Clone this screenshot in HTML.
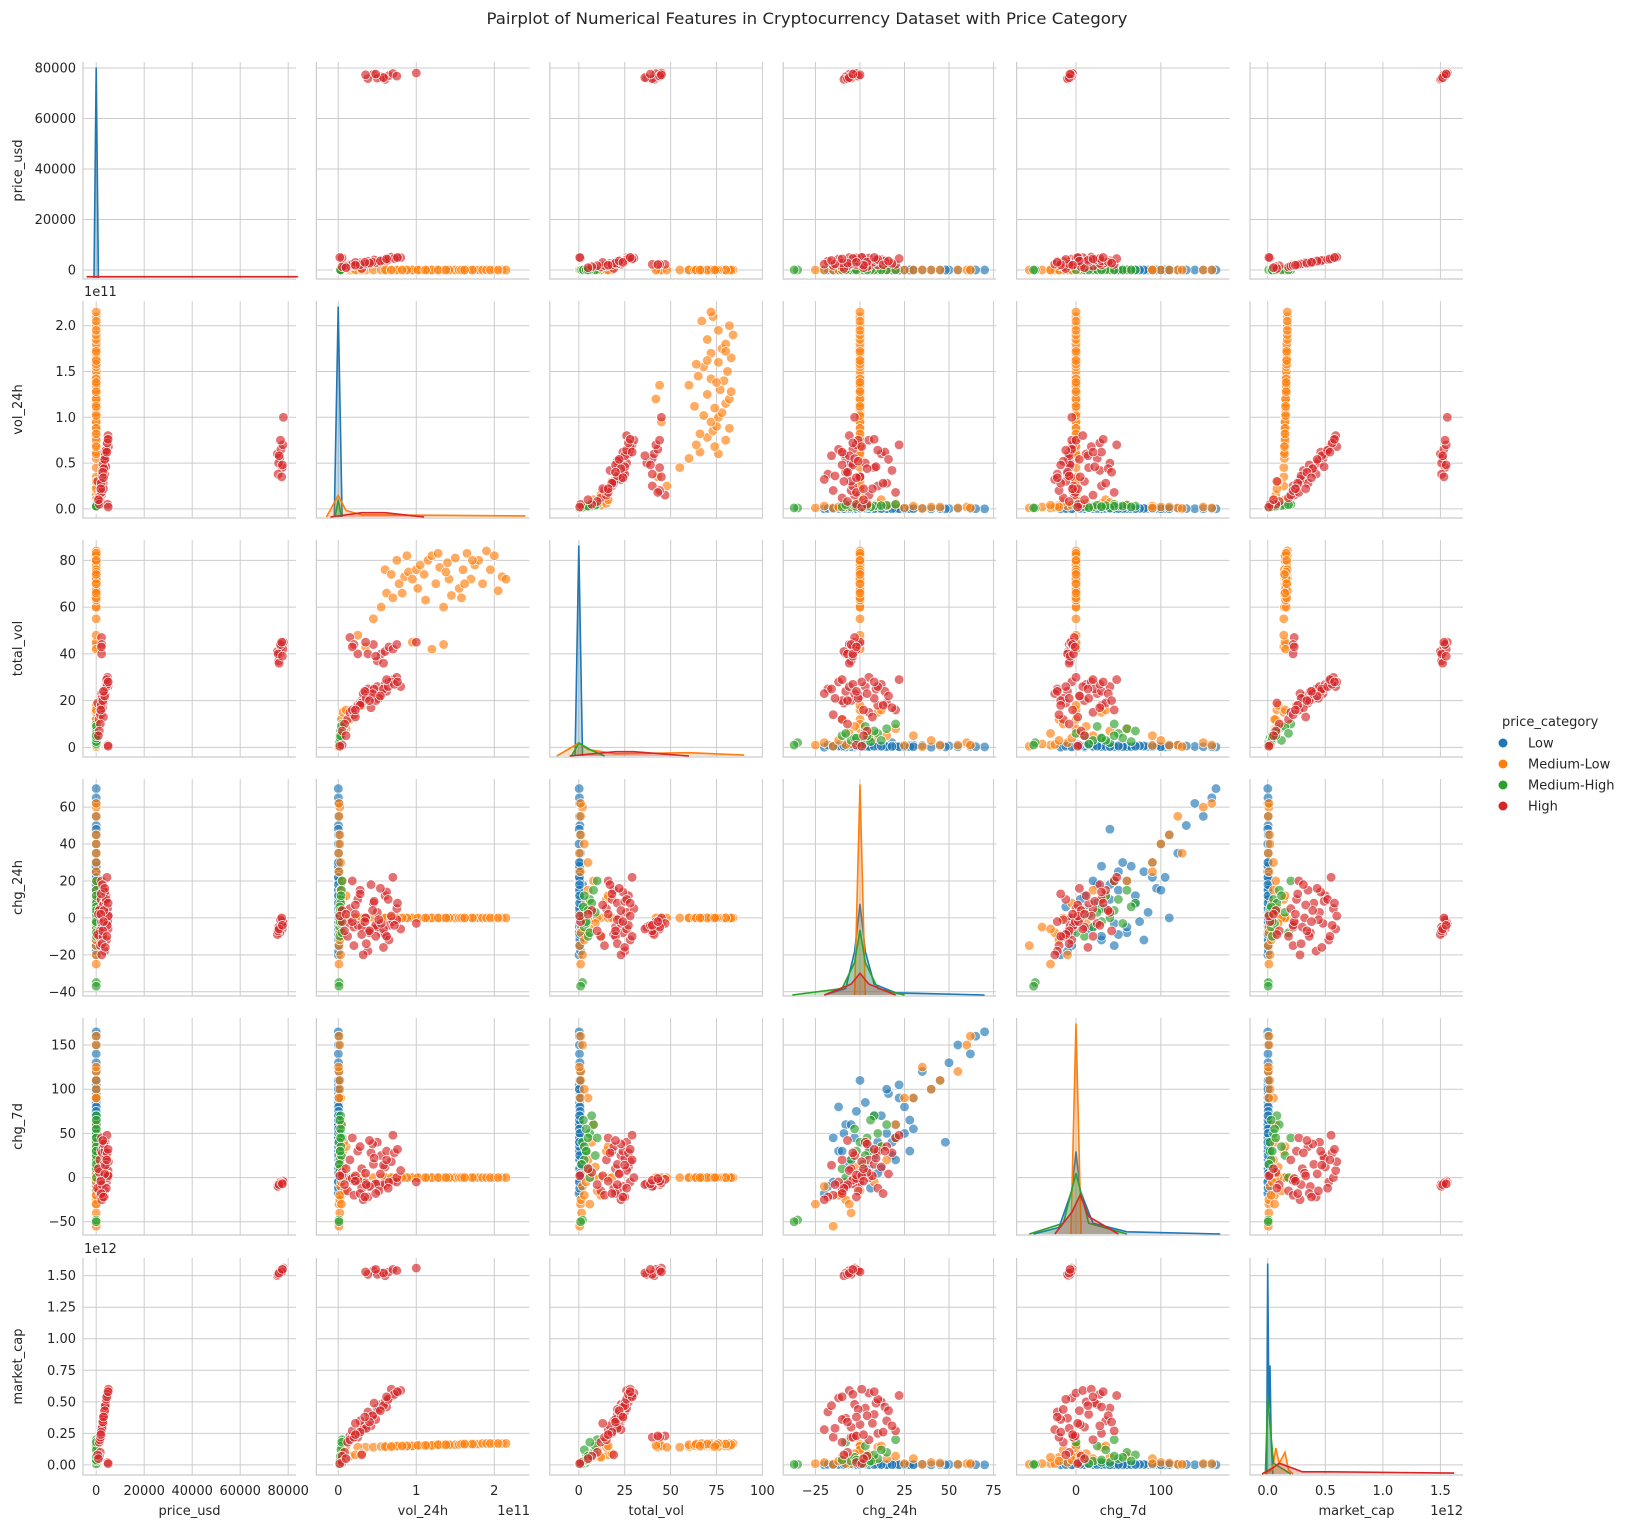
<!DOCTYPE html>
<html><head><meta charset="utf-8"><style>
html,body{margin:0;padding:0;background:#fff;}
svg{display:block;font-family:"DejaVu Sans","Liberation Sans",sans-serif;}
</style></head><body>
<svg id="chart" width="1631" height="1528" viewBox="0 0 1631 1528" xmlns="http://www.w3.org/2000/svg">
<text x="807" y="24" text-anchor="middle" font-size="16" fill="#262626" textLength="641" lengthAdjust="spacingAndGlyphs">Pairplot of Numerical Features in Cryptocurrency Dataset with Price Category</text>
<g id="panels"></g>
<g>
<text x="1502" y="726" font-size="13" fill="#262626">price_category</text>
<circle cx="1503" cy="743" r="4.5" fill="#1f77b4"/>
<text x="1528" y="747.5" font-size="13" fill="#262626">Low</text>
<circle cx="1503" cy="764" r="4.5" fill="#ff7f0e"/>
<text x="1528" y="768.5" font-size="13" fill="#262626">Medium-Low</text>
<circle cx="1503" cy="785" r="4.5" fill="#2ca02c"/>
<text x="1528" y="789.5" font-size="13" fill="#262626">Medium-High</text>
<circle cx="1503" cy="806" r="4.5" fill="#d62728"/>
<text x="1528" y="810.5" font-size="13" fill="#262626">High</text>
</g>
</svg>
<script>
// variables & categories
const vars = ['price_usd','vol_24h','total_vol','chg_24h','chg_7d','market_cap'];
const categories = ['Low','Medium-Low','Medium-High','High'];
// axis tick values per variable
const xTicks = [[0,20000,40000,60000,80000],[0,1,2],[0,25,50,75,100],[-25,0,25,50,75],[0,100],[0,0.5,1,1.5]];
const xTickLabels = [['0','20000','40000','60000','80000'],['0','1','2'],['0','25','50','75','100'],['\u221225','0','25','50','75'],['0','100'],['0.0','0.5','1.0','1.5']];
const yTicks = [[0,20000,40000,60000,80000],[0,0.5,1,1.5,2],[0,20,40,60,80],[-40,-20,0,20,40,60],[-50,0,50,100,150],[0,0.25,0.5,0.75,1,1.25,1.5]];
const yTickLabels = [['0','20000','40000','60000','80000'],['0.0','0.5','1.0','1.5','2.0'],['0','20','40','60','80'],['\u221240','\u221220','0','20','40','60'],['\u221250','0','50','100','150'],['0.00','0.25','0.50','0.75','1.00','1.25','1.50']];
// axis limits (data units; vol in 1e11, market_cap in 1e12)
const xLimits = [[-5500,83250],[-0.28,2.45],[-15.8,100.2],[-43.1,76.5],[-70,181],[-0.154,1.696]];
const yLimits = [[-3564,82376],[-0.10,2.27],[-4.1,88.7],[-42.3,75.2],[-65,180.6],[-0.08,1.64]];

// records: [price_usd, vol_24h(1e11), total_vol, chg_24h, chg_7d, market_cap(1e12)]
const lowRows = [
[0.1,0.001,0.1,5,10,0.001],[0.5,0.002,0.3,20,60,0.002],[1,0.005,0.5,-10,-15,0.003],[0.2,0.001,0.2,70,165,0.001],
[0.3,0.002,0.4,62,140,0.002],[0.8,0.003,0.6,50,130,0.003],[0.05,0.001,0.1,40,100,0.001],[2,0.01,1,30,90,0.005],
[0.4,0.002,0.5,25,80,0.002],[1.5,0.008,0.8,15,50,0.004],[0.6,0.003,0.3,10,40,0.002],[0.2,0.001,0.2,-5,20,0.001],
[3,0.02,1.5,0,0,0.01],[0.7,0.004,0.6,-15,-5,0.003],[0.1,0.001,0.1,-20,-18,0.001],[0.9,0.005,0.9,35,120,0.004],
[0.3,0.002,0.2,22,105,0.002],[1.2,0.006,1.2,-12,30,0.005],[0.4,0.002,0.4,8,70,0.002],[4,0.03,2,18,25,0.02],
[0.15,0.001,0.2,48,40,0.001],[0.25,0.002,0.3,-8,60,0.002],[0.5,0.003,0.5,12,10,0.003],[1,0.004,0.8,28,30,0.004],
[0.3,0.002,0.3,55,150,0.002],[0.6,0.003,0.4,3,85,0.003],[0.2,0.001,0.2,-3,45,0.001],[0.8,0.004,0.7,16,95,0.004],
[1.1,0.005,1.0,-18,-10,0.005],[0.4,0.002,0.3,65,160,0.002],[0.7,0.003,0.5,6,-12,0.003],[0.9,0.004,0.6,45,110,0.004],
[0.3,0.002,0.3,-10,30,0.002],[0.5,0.003,0.4,-5,60,0.002],[0.7,0.004,0.5,20,20,0.003],[0.2,0.001,0.2,25,50,0.001],
[1,0.005,0.6,-12,80,0.004],[0.4,0.002,0.3,15,100,0.002],[0.6,0.003,0.4,5,35,0.003],[0.8,0.004,0.7,-2,75,0.004],
[0.3,0.002,0.3,28,65,0.002],[0.5,0.002,0.4,-15,45,0.002],[0.9,0.005,0.8,10,5,0.004],[0.2,0.001,0.2,-8,-5,0.001],
[0.4,0.002,0.3,22,90,0.002],[0.6,0.003,0.5,0,110,0.003],[1.3,0.007,1.1,-6,15,0.006],[0.35,0.002,0.3,30,55,0.002],
[0.5,0.003,0.5,8,25,0.003],[0.7,0.004,0.6,-9,50,0.003],[0.4,0.002,0.4,18,40,0.002],[0.6,0.003,0.5,12,70,0.003]
];
const mediumLowRows = [
[1,0.35,43,0,0,0.14],[1,0.45,55,0,0,0.14],[1,0.55,60,0,0,0.145],[1,0.62,66,0,0,0.145],[1,0.70,64,0,0,0.15],
[1,0.78,70,0,0,0.15],[1,0.85,73,0,0,0.15],[1,0.90,75,0,0,0.15],[1,0.95,72,0,0,0.15],[1,1.00,76,0,0,0.155],
[1,1.05,78,0,0,0.155],[1,1.10,74,0,0,0.155],[1,1.15,80,0,0,0.155],[1,1.20,82,0,0,0.155],[1,1.25,70,0,0,0.16],
[1,1.30,77,0,0,0.16],[1,1.35,44,0,0,0.16],[1,1.40,79,0,0,0.16],[1,1.45,65,0,0,0.16],[1,1.50,81,0,0,0.16],
[1,1.55,68,0,0,0.16],[1,1.60,76,0,0,0.165],[1,1.65,83,0,0,0.165],[1,1.70,72,0,0,0.165],[1,1.75,78,0,0,0.165],
[1,1.80,80,0,0,0.165],[1,1.85,70,0,0,0.17],[1,1.90,84,0,0,0.17],[1,2.00,82,0,0,0.17],[1,2.10,73,0,0,0.17],
[1,2.15,72,0,0,0.17],[1,0.95,45,0,0,0.15],[1,1.20,42,0,0,0.155],[1,1.35,60,0,0,0.16],[1,0.25,48,0,0,0.14],
[1,0.60,76,0,0,0.145],[1,0.75,80,0,0,0.15],[1,0.88,82,0,0,0.15],[1,1.02,68,0,0,0.155],[1,1.12,63,0,0,0.155],
[1,1.28,83,0,0,0.16],[1,1.42,72,0,0,0.16],[1,1.58,64,0,0,0.165],[1,1.72,80,0,0,0.165],[1,1.95,76,0,0,0.17],
[1,2.05,67,0,0,0.17],[1,1.62,70,0,0,0.165],[1,1.38,75,0,0,0.16],[1,0.68,74,0,0,0.145],[1,0.82,66,0,0,0.15],
[1,0.15,12,0,0,0.07],[1,0.22,16,0,0,0.08],[1,0.30,18,0,0,0.09],[1,0.10,8,0,0,0.06],
[0.5,0.01,1,-25,-30,0.01],[1,0.02,2,60,150,0.01],[2,0.01,1,55,120,0.005],[0.3,0.02,3,40,100,0.02],
[5,0.03,5,30,90,0.05],[10,0.05,8,20,60,0.07],[20,0.04,12,-10,-20,0.06],[1,0.01,0.5,-15,-55,0.005],
[3,0.02,1.5,-5,-40,0.01],[50,0.06,15,10,30,0.14],[0.8,0.01,1,62,160,0.01],[2,0.02,1,45,110,0.015],
[1,0.03,2,-20,-10,0.02],[4,0.05,6,5,5,0.08],[8,0.08,10,0,-15,0.12],[15,0.10,16,12,35,0.15],
[0.5,0.01,0.8,25,90,0.01],[1,0.02,1.2,-8,-25,0.01],[30,0.07,7,3,40,0.06],[0.2,0.005,0.3,35,125,0.005],
[6,0.04,4,8,-5,0.04],[12,0.06,9,-3,12,0.09],[2,0.02,3,-12,-20,0.03],[4,0.03,5,15,20,0.05],[7,0.04,6,-6,-30,0.06]
];
const mediumHighRows = [
[20,0.01,2,-35,-48,0.005],[15,0.01,1,-37,-50,0.004],[30,0.02,4,5,30,0.02],[50,0.03,6,10,50,0.05],
[40,0.02,3,-5,20,0.03],[60,0.04,8,15,60,0.10],[80,0.05,10,20,45,0.20],[25,0.01,2,0,40,0.02],
[35,0.02,5,-10,10,0.04],[45,0.03,7,8,70,0.08],[70,0.04,9,3,25,0.15],[55,0.03,4,-3,55,0.06],
[65,0.035,3,12,35,0.12],[90,0.045,6,-8,0,0.18],[28,0.015,1.5,2,15,0.01],[38,0.02,2.5,6,65,0.03],
[42,0.025,4,-2,30,0.04],[58,0.03,5,4,45,0.07]
];
const highRows = [
[77500,0.45,44,-6,-8,1.54],[76500,0.55,40,-8,-9,1.52],[75500,0.60,41,-9,-9,1.50],[77000,0.65,43,-4,-6,1.53],
[78000,1.00,45,-3,-5,1.56],[76000,0.50,37,-5,-7,1.51],[77800,0.70,42,-2,-4,1.55],[75800,0.38,40,-7,-10,1.51],
[76800,0.75,44,-1,-5,1.54],[77300,0.35,45,0,-6,1.53],[76200,0.58,36,-6,-8,1.52],[77600,0.48,39,-4,-7,1.55],
[2200,0.15,47,-3,-2,0.23],[2300,0.20,44,-5,-4,0.22],[2250,0.25,40,-4,-3,0.22],[2150,0.18,43,-2,-1,0.23],
[1200,0.12,12,-10,-15,0.18],[1500,0.15,15,5,20,0.20],[1800,0.20,14,-15,-20,0.22],[2000,0.25,18,10,30,0.25],
[2200,0.18,16,20,45,0.27],[2500,0.30,20,-5,10,0.30],[2700,0.35,22,0,5,0.32],[2900,0.28,19,15,35,0.35],
[3100,0.40,24,-8,-10,0.37],[3300,0.45,21,8,15,0.40],[3500,0.38,25,-18,-22,0.42],[3700,0.50,26,3,40,0.45],
[3900,0.55,23,-3,25,0.48],[4100,0.60,27,12,12,0.50],[4300,0.65,28,-12,-5,0.53],[4500,0.70,29,22,48,0.55],
[4700,0.75,30,5,0,0.57],[4900,0.80,26,-6,8,0.59],[5100,0.68,28,1,18,0.60],[2300,0.32,23,-20,-25,0.28],
[2600,0.42,17,18,28,0.31],[3000,0.22,13,7,2,0.33],[3400,0.52,21,-1,-15,0.44],[4000,0.46,25,9,22,0.49],
[1700,0.08,10,-7,-8,0.10],[1300,0.05,7,4,6,0.07],[4800,0.05,1,-2,3,0.02],[5000,0.02,0.5,1,2,0.01],
[600,0.30,19,-9,-12,0.08],[900,0.10,5,2,10,0.05],[3600,0.62,24,14,30,0.46],[2800,0.48,20,-10,-18,0.36],
[2400,0.36,21,-14,-8,0.29],[3200,0.44,23,4,38,0.39],[3800,0.58,25,-16,14,0.47],[4200,0.64,26,10,-12,0.52],
[4600,0.72,27,-4,28,0.56],[2100,0.28,18,13,-18,0.26],[2750,0.40,20,-7,42,0.34],[3550,0.54,22,16,4,0.43],
[4400,0.62,29,-10,20,0.54],[1900,0.22,16,2,-4,0.24],[3050,0.34,24,-2,-22,0.38],[4950,0.76,28,8,32,0.58]
];

// diagonal KDE curves: x in data units, density as fraction of panel height
const kdePriceX = [[-900,0,900],[],[],[-4000,84000]];
const kdePriceD = [[0,0.97,0],[],[],[0.006,0.006]];
const kdeVolX = [[-0.05,0,0.05],[-0.15,0,0.1,0.3,2.4],[-0.04,0,0.04],[-0.1,0.3,0.6,1.1]];
const kdeVolD = [[0,0.97,0],[0,0.1,0.03,0.01,0.005],[0,0.08,0],[0,0.02,0.02,0]];
const kdeTotalX = [[-2,0,2],[-12,0,5,20,60,90],[-4,0,6,14],[-5,20,30,45,60]];
const kdeTotalD = [[0,0.97,0],[0,0.06,0.03,0.01,0.015,0.004],[0,0.06,0.03,0],[0,0.02,0.02,0.01,0]];
const kdeChg24X = [[-20,-8,-3,0,3,8,20,70],[-3,0,3],[-38,-10,-3,0,3,10,25],[-20,-5,0,5,20]];
const kdeChg24D = [[0,0.03,0.2,0.42,0.2,0.05,0.01,0],[0,0.97,0],[0,0.03,0.15,0.3,0.15,0.03,0],[0,0.05,0.1,0.05,0]];
const kdeChg7X = [[-50,-20,-5,0,5,20,60,170],[-6,0,6],[-55,-15,0,15,60],[-25,-5,5,15,50]];
const kdeChg7D = [[0,0.03,0.2,0.38,0.2,0.05,0.01,0],[0,0.97,0],[0,0.05,0.28,0.05,0],[0,0.1,0.18,0.08,0]];
const kdeMcapX = [[-0.01,0,0.01,0.02,0.03,0.045],[-0.02,0.04,0.07,0.1,0.15,0.18,0.22],[-0.02,0,0.05,0.2],[-0.05,0.05,0.1,0.3,0.55,1.62]];
const kdeMcapD = [[0,0.97,0.3,0.5,0.15,0],[0,0.02,0.12,0.05,0.1,0.02,0],[0,0.35,0.05,0],[0,0.03,0.05,0.01,0.01,0.004]];

const colors = ['#1f77b4','#ff7f0e','#2ca02c','#d62728'];
const catRows = [lowRows, mediumLowRows, mediumHighRows, highRows];
const kdeX = [kdePriceX,kdeVolX,kdeTotalX,kdeChg24X,kdeChg7X,kdeMcapX];
const kdeD = [kdePriceD,kdeVolD,kdeTotalD,kdeChg24D,kdeChg7D,kdeMcapD];

const NS='http://www.w3.org/2000/svg';
const root=document.getElementById('panels');
const colLeft=[83,316.4,549.8,783.2,1016.6,1250], PW=213;
const rowTop=[62,301,540,779,1018,1258], PH=217;
function mk(tag,attrs,parent){const e=document.createElementNS(NS,tag);for(const k in attrs)e.setAttribute(k,attrs[k]);parent.appendChild(e);return e;}
function xScale(c,v){const l=xLimits[c];return colLeft[c]+(v-l[0])/(l[1]-l[0])*PW;}
function yScale(r,v){const l=yLimits[r];return rowTop[r]+PH-(v-l[0])/(l[1]-l[0])*PH;}
function slug(s){return s.toLowerCase().replace(/_/g,'-');}

for(let r=0;r<6;r++){
  for(let c=0;c<6;c++){
    const g=mk('g',{},root);
    
    
    const L=colLeft[c],T=rowTop[r];
    for(const t of xTicks[c]){const x=xScale(c,t);const ln=mk('line',{x1:x,x2:x,y1:T,y2:T+PH,stroke:'#cccccc','stroke-width':1},g);
      
      }
    for(const t of yTicks[r]){const y=yScale(r,t);const ln=mk('line',{x1:L,x2:L+PW,y1:y,y2:y,stroke:'#cccccc','stroke-width':1},g);
      
      }
    const sp=mk('path',{d:`M${L},${T}V${T+PH}H${L+PW}`,fill:'none',stroke:'#cccccc','stroke-width':1.2},g);
    
    
    if(r===c){
      const base=T+PH-1;
      for(let k=0;k<4;k++){
        const xs=kdeX[c][k],ds=kdeD[c][k];if(!xs.length)continue;
        let d='';xs.forEach((xv,i)=>{d+=(i?'L':'M')+xScale(c,xv).toFixed(1)+','+(base-ds[i]*PH).toFixed(1);});
        const fill=mk('path',{d:d+`L${xScale(c,xs[xs.length-1]).toFixed(1)},${base}L${xScale(c,xs[0]).toFixed(1)},${base}Z`,fill:colors[k],'fill-opacity':0.25,stroke:'none'},g);
        
        
        const ln=mk('path',{d:d,fill:'none',stroke:colors[k],'stroke-width':1.6},g);
        
        
      }
    } else {
      for(let k=0;k<4;k++){
        for(const row of catRows[k]){
          const p=mk('circle',{cx:xScale(c,row[c]).toFixed(1),cy:yScale(r,row[r]).toFixed(1),r:4.8,fill:colors[k],'fill-opacity':0.65,stroke:'#ffffff','stroke-width':0.7},g);
          
          
        }
      }
    }
    if(c===0){
      yTicks[r].forEach((t,i)=>{const tx=mk('text',{x:76,y:yScale(r,t)+4.5,'text-anchor':'end','font-size':13,fill:'#262626'},g);tx.textContent=yTickLabels[r][i];
        
        });
      const cy=T+PH/2;
      const yl=mk('text',{x:0,y:0,transform:`translate(22,${cy}) rotate(-90)`,'text-anchor':'middle','font-size':13,fill:'#262626'},g);yl.textContent=vars[r];
      
      
    }
    if(r===5){
      xTicks[c].forEach((t,i)=>{const tx=mk('text',{x:xScale(c,t),y:1495,'text-anchor':'middle','font-size':13,fill:'#262626'},g);tx.textContent=xTickLabels[c][i];
        
        });
      const xl=mk('text',{x:L+PW/2,y:1515,'text-anchor':'middle','font-size':13,fill:'#262626'},g);xl.textContent=vars[c];
      
      
    }
  }
}
const offs=[[84,296,'start','1e11','y-offset-vol'],[84,1253,'start','1e12','y-offset-market-cap'],[530,1515,'end','1e11','x-offset-vol'],[1463,1515,'end','1e12','x-offset-market-cap']];
for(const o of offs){const t=mk('text',{x:o[0],y:o[1],'text-anchor':o[2],'font-size':13,fill:'#262626'},root);t.textContent=o[3];
  
  }
</script>
</body></html>
